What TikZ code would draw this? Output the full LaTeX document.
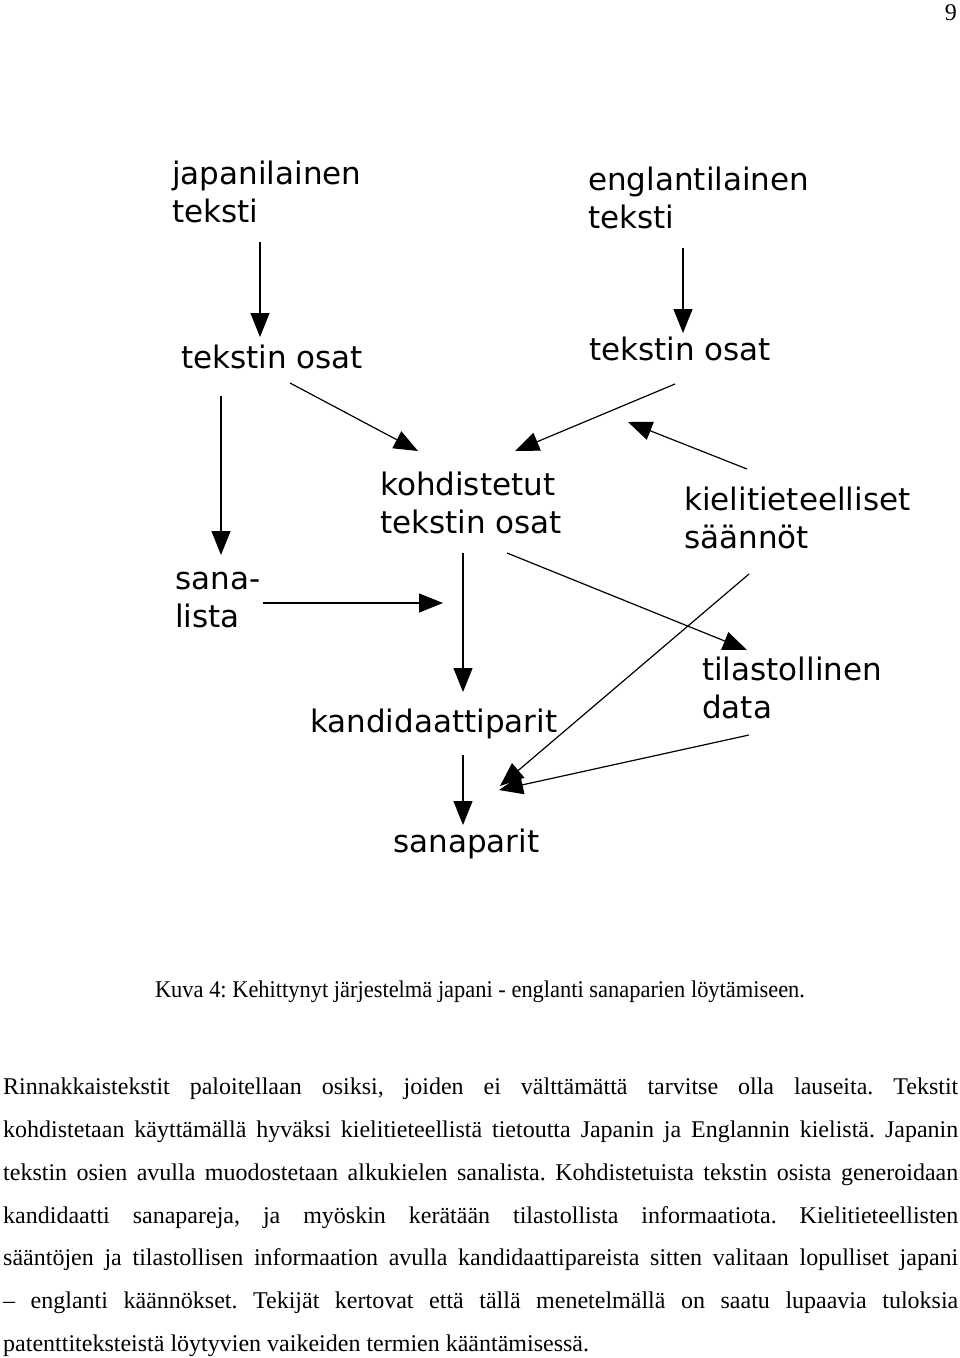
\documentclass[tikz,border=0pt]{standalone}
\usepackage{fontspec}
\setmainfont{Liberation Serif}
\newfontfamily\labfont{DejaVu Sans}
\usetikzlibrary{arrows.meta}
\frenchspacing
\begin{document}
\begin{tikzpicture}[x=1pt,y=-1pt,
  lab/.style={font=\labfont\fontsize{31}{38}\selectfont, align=left, inner sep=0pt, anchor=base west},
  arr/.style={draw, line width=1.2pt, -{Triangle[length=24pt,width=19pt]}},
  body/.style={font=\fontsize{24}{42.67}\selectfont\frenchspacing, inner sep=0pt, anchor=base west, align=left}]
\useasboundingbox[fill=white] (0,0) rectangle (960,1358);
% page number
\node[font=\fontsize{24}{28}\selectfont, inner sep=0pt, anchor=base east] (pg) at (957,20) {9};
% labels (anchor = baseline of the last line)
\node[lab] (jap) at (172,222) {japanilainen\\teksti};
\node[lab] (eng) at (588,228) {englantilainen\\teksti};
\node[lab] (tol) at (181,368) {tekstin osat};
\node[lab] (tor) at (589,360) {tekstin osat};
\node[lab] (koh) at (380,533) {kohdistetut\\tekstin osat};
\node[lab] (kie) at (684,548) {kielitieteelliset\\säännöt};
\node[lab] (sana) at (175,627) {sana-\\lista};
\node[lab] (kand) at (310,732) {kandidaattiparit};
\node[lab] (til) at (702,718) {tilastollinen\\data};
\node[lab] (spar) at (393,852) {sanaparit};
% connector end points
\coordinate (a1s) at (260,242); \coordinate (a1e) at (260,337);
\coordinate (a2s) at (683,248); \coordinate (a2e) at (683,333);
\coordinate (a3s) at (290,383); \coordinate (a3e) at (418,451);
\coordinate (a4s) at (675,384); \coordinate (a4e) at (515,451);
\coordinate (a5s) at (747,469); \coordinate (a5e) at (628,422);
\coordinate (a6s) at (221,396); \coordinate (a6e) at (221,555);
\coordinate (a7s) at (263,603); \coordinate (a7e) at (443,603);
\coordinate (a8s) at (463,553); \coordinate (a8e) at (463,692);
\coordinate (a9s) at (507,553); \coordinate (a9e) at (747,650);
\coordinate (a10s) at (749,574); \coordinate (a10e) at (500,786);
\coordinate (a11s) at (749,735); \coordinate (a11e) at (499,790);
\coordinate (a12s) at (463,755); \coordinate (a12e) at (463,825);
\draw[arr] (a1s) -- (a1e);
\draw[arr] (a2s) -- (a2e);
\draw[arr] (a3s) -- (a3e);
\draw[arr] (a4s) -- (a4e);
\draw[arr] (a5s) -- (a5e);
\draw[arr] (a6s) -- (a6e);
\draw[arr] (a7s) -- (a7e);
\draw[arr] (a8s) -- (a8e);
\draw[arr] (a9s) -- (a9e);
\draw[arr] (a10s) -- (a10e);
\draw[arr] (a11s) -- (a11e);
\draw[arr] (a12s) -- (a12e);
% caption
\node[font=\fontsize{24}{28}\selectfont, inner sep=0pt, anchor=base] (cap) at (480,997) {\scalebox{0.935}[1]{Kuva 4: Kehittynyt järjestelmä japani - englanti sanaparien löytämiseen.}};
% body text (anchor = baseline of the last line)
\node[body] (txt) at (3,1351) {%
\makebox[955pt][s]{Rinnakkaistekstit paloitellaan osiksi, joiden ei välttämättä tarvitse olla lauseita. Tekstit}\\
\makebox[955pt][s]{kohdistetaan käyttämällä hyväksi kielitieteellistä tietoutta Japanin ja Englannin kielistä. Japanin}\\
\makebox[955pt][s]{tekstin osien avulla muodostetaan alkukielen sanalista. Kohdistetuista tekstin osista generoidaan}\\
\makebox[955pt][s]{kandidaatti sanapareja, ja myöskin kerätään tilastollista informaatiota. Kielitieteellisten}\\
\makebox[955pt][s]{sääntöjen ja tilastollisen informaation avulla kandidaattipareista sitten valitaan lopulliset japani}\\
\makebox[955pt][s]{– englanti käännökset. Tekijät kertovat että tällä menetelmällä on saatu lupaavia tuloksia}\\
patenttiteksteistä löytyvien vaikeiden termien kääntämisessä.};
\end{tikzpicture}
\end{document}
